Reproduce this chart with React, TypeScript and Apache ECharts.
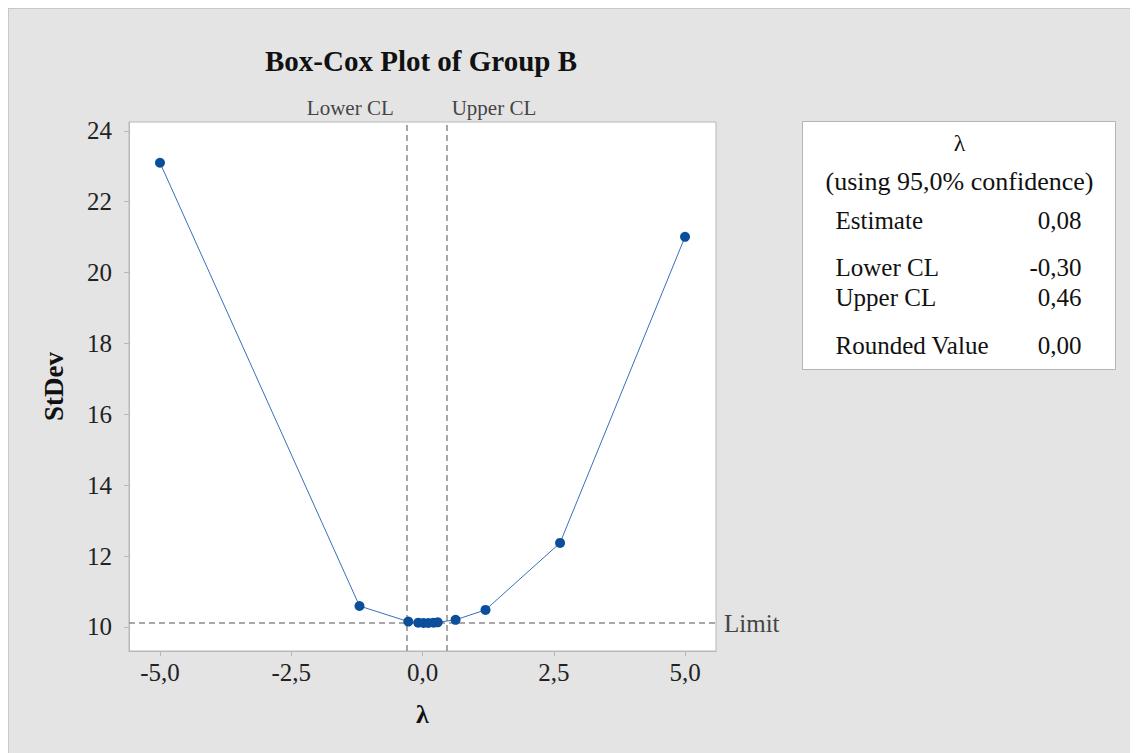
import React, { useEffect, useRef } from "react";
import * as echarts from "echarts";

const lambdas = [-5, -1.2, -0.27, -0.08, 0.02, 0.11, 0.21, 0.29, 0.63, 1.2, 2.62, 5];
const stdevs = [23.1, 10.59, 10.15, 10.12, 10.11, 10.11, 10.12, 10.13, 10.2, 10.48, 12.37, 21.01];
const xTicks = [-5, -2.5, 0, 2.5, 5];
const yTicks = [10, 12, 14, 16, 18, 20, 22, 24];
const limitValue = 10.11;
const lowerCL = -0.3;
const upperCL = 0.46;
const tableLabels = ["Estimate", "Lower CL", "Upper CL", "Rounded Value"];
const tableValues = ["0,08", "-0,30", "0,46", "0,00"];

const SERIF = "'Liberation Serif', 'DejaVu Serif', serif";

export default function App() {
  const ref = useRef<HTMLDivElement>(null);
  useEffect(() => {
    if (!ref.current) return;
    const chart = echarts.init(ref.current, null, { renderer: "svg" });
    const rowY = [211, 258, 288, 336];
    const tableChildren: any[] = [
      {
        type: "rect",
        shape: { x: 0, y: 0, width: 313, height: 248 },
        style: { fill: "#ffffff", stroke: "#b4b4b4", lineWidth: 1 },
      },
      {
        type: "text",
        x: 157,
        y: 21,
        style: { text: "λ", font: `24px ${SERIF}`, fill: "#111", align: "center", verticalAlign: "middle" },
      },
      {
        type: "text",
        x: 157,
        y: 60,
        style: { text: "(using 95,0% confidence)", font: `26px ${SERIF}`, fill: "#111", align: "center", verticalAlign: "middle" },
      },
    ];
    tableLabels.forEach((l, i) => {
      tableChildren.push({
        type: "text",
        x: 33,
        y: rowY[i] - 112,
        style: { text: l, font: `25px ${SERIF}`, fill: "#111", align: "left", verticalAlign: "middle" },
      });
      tableChildren.push({
        type: "text",
        x: 279,
        y: rowY[i] - 112,
        style: { text: tableValues[i], font: `25px ${SERIF}`, fill: "#111", align: "right", verticalAlign: "middle" },
      });
    });

    const fmt = (v: number) => v.toFixed(1).replace(".", ",");

    chart.setOption({
      animation: false,
      backgroundColor: "#e4e4e4",
      title: {
        text: "Box-Cox Plot of Group B",
        left: 407,
        textAlign: "center",
        top: 32,
        textStyle: { fontFamily: SERIF, fontWeight: "bold", fontSize: 29, color: "#111" },
      },
      grid: {
        left: 120,
        top: 113,
        right: 422,
        bottom: 102,
        show: true,
        backgroundColor: "#ffffff",
        borderColor: "#b8b8b8",
        borderWidth: 1,
      },
      xAxis: {
        type: "value",
        min: -5.59,
        max: 5.59,
        name: "λ",
        nameLocation: "middle",
        nameGap: 50,
        nameTextStyle: { fontFamily: SERIF, fontWeight: "bold", fontSize: 26, color: "#111" },
        axisLine: { show: true, onZero: false, lineStyle: { color: "#b8b8b8" } },
        axisTick: { show: true, customValues: xTicks, length: 5, lineStyle: { color: "#b8b8b8" } },
        axisLabel: {
          customValues: xTicks,
          formatter: (v: number) => fmt(v),
          fontFamily: SERIF,
          fontSize: 25,
          color: "#222",
          margin: 9,
        },
        splitLine: { show: false },
      },
      yAxis: {
        type: "value",
        min: 9.32,
        max: 24.25,
        name: "StDev",
        nameLocation: "middle",
        nameGap: 62,
        nameTextStyle: { fontFamily: SERIF, fontWeight: "bold", fontSize: 27, color: "#111" },
        axisLine: { show: true, onZero: false, lineStyle: { color: "#b8b8b8" } },
        axisTick: { show: true, customValues: yTicks, length: 5, lineStyle: { color: "#b8b8b8" } },
        axisLabel: {
          customValues: yTicks,
          formatter: (v: number) => String(v),
          fontFamily: SERIF,
          fontSize: 25,
          color: "#222",
          margin: 17,
        },
        splitLine: { show: false },
      },
      series: [
        {
          type: "line",
          data: lambdas.map((l, i) => [l, stdevs[i]]),
          symbol: "circle",
          symbolSize: 10,
          lineStyle: { color: "#3a70b8", width: 1 },
          itemStyle: { color: "#0b4f9c" },
          z: 5,
          markLine: {
            silent: true,
            symbol: "none",
            lineStyle: { color: "#8c8c8c", type: [6, 4], width: 1.5 },
            data: [
              {
                yAxis: limitValue,
                label: {
                  show: true,
                  position: "end",
                  formatter: "Limit",
                  fontFamily: SERIF,
                  fontSize: 25,
                  color: "#444",
                  distance: 8,
                },
              },
              {
                xAxis: lowerCL,
                label: {
                  show: true,
                  position: "end",
                  formatter: "Lower CL",
                  fontFamily: SERIF,
                  fontSize: 21,
                  color: "#444",
                  align: "right",
                  padding: [0, 13, 0, 0],
                  distance: 4,
                },
              },
              {
                xAxis: upperCL,
                label: {
                  show: true,
                  position: "end",
                  formatter: "Upper CL",
                  fontFamily: SERIF,
                  fontSize: 21,
                  color: "#444",
                  align: "left",
                  padding: [0, 0, 0, 5],
                  distance: 4,
                },
              },
            ],
          },
        },
      ],
      graphic: [
        {
          type: "group",
          left: 793,
          top: 112,
          children: tableChildren,
        },
      ],
    });
    return () => chart.dispose();
  }, []);
  return (
    <div
      ref={ref}
      style={{
        width: 1130,
        height: 745,
        borderLeft: "1px solid #c8c8c8",
        borderTop: "1px solid #c8c8c8",
        boxSizing: "border-box",
      }}
    />
  );
}
